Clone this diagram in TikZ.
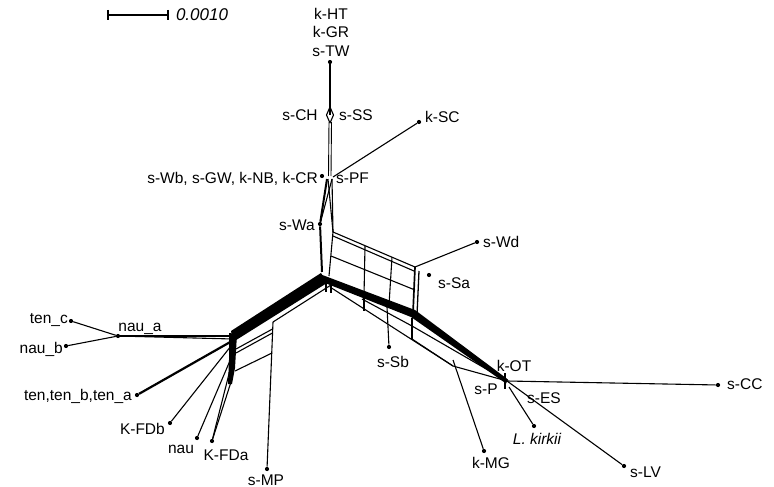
\documentclass[tikz,border=0pt]{standalone}
\usepackage{fontspec}
\setmainfont{Liberation Sans}
\begin{document}
\begin{tikzpicture}[x=1pt,y=-1pt,
  net/.style={line width=1.1pt, line join=round},
  leaf/.style={circle, fill=black, inner sep=0pt, minimum size=4.2pt},
  lbl/.style={font=\fontsize{15.5}{18}\selectfont, inner sep=0pt, anchor=base},
  lble/.style={lbl, anchor=base east},
  lblw/.style={lbl, anchor=base west}]
\useasboundingbox (0,0) rectangle (774,487);
% scale bar
\coordinate (sb1) at (108,15);
\coordinate (sb2) at (168,15);
\draw[line width=1.4pt] (sb1) -- (sb2);
\draw[line width=1.2pt] (108,10) -- (108,20) (168,10) -- (168,20);
\node[lbl, font=\fontsize{17}{20}\selectfont\itshape] (scale) at (202,21) {0.0010};
% junction coordinates
\coordinate (CS) at (330,115);
\coordinate (PF) at (330,177);
\coordinate (C) at (323,278);
\coordinate (Gul) at (333,232);
\coordinate (Gur) at (415,267);
\coordinate (Glr) at (413,313);
\coordinate (OT) at (507,381);
\coordinate (L1) at (233,336);
% leaves
\node[leaf] (sTW) at (330,62) {};
\node[leaf] (kSC) at (419,122) {};
\node[leaf] (sWb) at (322,176) {};
\node[leaf] (sWa) at (320,224) {};
\node[leaf] (sWd) at (477,242) {};
\node[leaf] (sSa) at (429,275) {};
\node[leaf] (sSb) at (389,347) {};
\node[leaf] (sCC) at (718,385) {};
\node[leaf] (Lk) at (534,426) {};
\node[leaf] (kMG) at (484,451) {};
\node[leaf] (sLV) at (624,466) {};
\node[leaf] (tenc) at (71,321) {};
\node[leaf] (naub) at (66,346) {};
\node[leaf] (naua) at (118,336) {};
\node[leaf] (ten) at (137,395) {};
\node[leaf] (KFDb) at (170,423) {};
\node[leaf] (nau) at (197,438) {};
\node[leaf] (KFDa) at (212,441) {};
\node[leaf] (sMP) at (267,469) {};
% labels
\node[lbl] (lHT) at (331,20) {k-HT};
\node[lbl] (lGR) at (331,38) {k-GR};
\node[lbl] (lTW) at (331,57) {s-TW};
\node[lbl] (lCH) at (300,120) {s-CH};
\node[lbl] (lSS) at (356,120) {s-SS};
\node[lblw] (lSC) at (425,122) {k-SC};
\node[lble] (lWb) at (318,183) {s-Wb, s-GW, k-NB, k-CR};
\node[lblw] (lPF) at (336,183) {s-PF};
\node[lble] (lWa) at (315,230) {s-Wa};
\node[lblw] (lWd) at (483,247) {s-Wd};
\node[lblw] (lSa) at (438,288) {s-Sa};
\node[lbl] (lSb) at (393,367) {s-Sb};
\node[lbl] (lOT) at (514,371) {k-OT};
\node[lbl] (lP) at (486,394) {s-P};
\node[lbl] (lES) at (544,403) {s-ES};
\node[lblw] (lCC) at (727,389) {s-CC};
\node[lbl, font=\fontsize{15.5}{18}\selectfont\itshape] (lLk) at (537,444) {L. kirkii};
\node[lbl] (lMG) at (491,468) {k-MG};
\node[lblw] (lLV) at (630,477) {s-LV};
\node[lble] (ltenc) at (68,323) {ten\_c};
\node[lble] (lnaub) at (63,353) {nau\_b};
\node[lbl] (lnaua) at (140,331) {nau\_a};
\node[lble] (lten) at (132,400) {ten,ten\_b,ten\_a};
\node[lble] (lKFDb) at (165,434) {K-FDb};
\node[lbl] (lnau) at (181,453) {nau};
\node[lbl] (lKFDa) at (226,460) {K-FDa};
\node[lbl] (lMP) at (266,485) {s-MP};
% top stalk
\draw[line width=1.6pt] (sTW) -- (CS);
\draw[net] (330,107) -- (333.5,115) -- (330,123) -- (326.5,115) -- cycle;
\draw[line width=0.9pt] (329,122) -- (328.5,176);
\draw[line width=0.9pt] (331.5,122) -- (331,176);
\draw[net] (kSC) -- (333,177);
% stalk to centre
\draw[line width=2pt] (327,179) -- (sWa) -- (322,272);
\draw[net] (332,179) -- (Gul);
\draw[net] (328,179) -- (Gul);
\draw[net] (332,179) -- (sWa);
\draw[net] (Gul) -- (329,276);
\draw[net] (326,280) -- (326,292);
\draw[net] (331,281) -- (331,293);
% grid
\draw[net] (Gul) -- (Gur);
\draw[net] (333,236) -- (414,271);
\draw[line width=1.7pt] (Gur) -- (Glr);
\draw[line width=1.3pt] (419,271) -- (417,315);
\draw[net] (331,256) -- (415,290);
\draw[net] (365,246) -- (364,296);
\draw[net] (392,257) -- (389,305);
\draw[net] (Gur) -- (sWd);
% right band
\fill (321,274.5) -- (415,310) -- (508,379.5) -- (506,383.5) -- (411,317) -- (325,283) -- cycle;
\draw[net] (330,287) -- (453,366) -- (OT);
\draw[net] (362,299) -- (412,326) -- (OT);
\draw[net] (364,298) -- (364,311);
\draw[net] (412,318) -- (412,339);
\draw[net] (387,307) -- (sSb);
\draw[net] (412,339) -- (453,366);
\draw[net] (453,360) -- (kMG);
\draw[line width=1.8pt] (505,373) -- (505,389);
\draw[net] (OT) -- (sCC);
\draw[net] (OT) -- (sLV);
\draw[net] (509,387) -- (Lk);
% left band
\fill (321,273) -- (231,331) -- (233,342) -- (327,283) -- cycle;
\fill (229,333) -- (237,334) -- (235,368) -- (232,384) -- (228,384) -- (229,360) -- cycle;
\draw[net] (331,285) -- (273,322);
\draw[net] (273,322) -- (sMP);
\draw[net] (272.5,329) -- (236,349);
\draw[net] (272.4,333) -- (236,353);
\draw[net] (272,353) -- (235,371);
% left leaves
\draw[net] (naua) -- (L1);
\draw[net] (naua) -- (233,339);
\draw[net] (tenc) -- (naua);
\draw[net] (naub) -- (naua);
\draw[line width=2.2pt] (ten) -- (232,341);
\draw[net] (KFDb) -- (231,346);
\draw[net] (nau) -- (232,356);
\draw[net] (KFDa) -- (231,382);
\draw[net] (KFDa) -- (230,370);
\end{tikzpicture}
\end{document}
